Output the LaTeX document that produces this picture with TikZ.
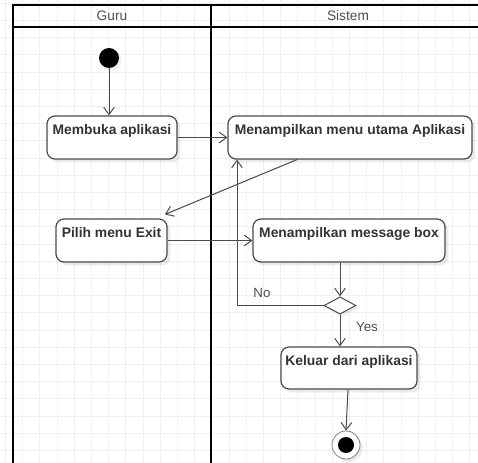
\documentclass[tikz,border=0pt]{standalone}
\usepackage{fontspec}
\setmainfont{Liberation Sans}
\usetikzlibrary{arrows.meta,shapes.geometric,shadows,fit}
\definecolor{gridline}{HTML}{F0F0F0}
\definecolor{edge}{HTML}{4A4A4A}
\definecolor{inktext}{HTML}{333333}
\definecolor{headtext}{HTML}{505050}
\tikzset{
  x=0.75pt, y=-0.75pt,
  actbox/.style={draw=edge, line width=0.9pt, rounded corners=6pt, fill=white, inner sep=0pt,
    drop shadow={shadow xshift=2.5pt, shadow yshift=-2.5pt, fill=black, opacity=0.08}},
  boxtext/.style={font=\bfseries\fontsize{10.4pt}{12pt}\selectfont, text=inktext, inner sep=0pt},
  flow/.style={draw=edge, line width=0.75pt, -{Straight Barb[length=5.5pt,width=8pt,line width=0.75pt]}},
  guard/.style={font=\fontsize{10pt}{12pt}\selectfont, text=headtext, inner sep=0pt},
  lanehead/.style={font=\fontsize{10.3pt}{12pt}\selectfont, text=headtext, inner sep=0pt},
}
\begin{document}
\begin{tikzpicture}
\useasboundingbox (0,0) rectangle (478,463);
\clip (0,0) rectangle (478,463);
\fill[white] (0,0) rectangle (478,463);
% background grid
\foreach \i in {0,...,28} \draw[gridline, line width=0.75pt] ({5.5+17.2*\i},0) -- ({5.5+17.2*\i},463);
\foreach \j in {0,...,27} \draw[gridline, line width=0.75pt] (0,{3.3+17.2*\j}) -- (478,{3.3+17.2*\j});

% swimlanes
\draw[black, line width=1.5pt] (13,470) -- (13,5) -- (485,5);
\draw[black, line width=1.5pt] (13,27) -- (485,27);
\draw[black, line width=1.5pt] (211,5) -- (211,470);
\node[lanehead] (hguru) at (112,16) {Guru};
\node[lanehead] (hsis) at (348,16) {Sistem};

% start
\node[circle, fill=black, minimum size=15pt, inner sep=0pt,
  drop shadow={shadow xshift=2pt, shadow yshift=-2pt, fill=black, opacity=0.06}] (start) at (109,58) {};

% activities
\node[actbox, fit={(47,116) (177,159)},
  label={[boxtext, anchor=base, yshift=-14.2pt]north:Membuka aplikasi}] (buka) {};
\node[actbox, fit={(228,116) (472,159)},
  label={[boxtext, anchor=base, yshift=-14.2pt]north:Menampilkan menu utama Aplikasi}] (menu) {};
\node[actbox, fit={(56,219) (167,262)},
  label={[boxtext, anchor=base, yshift=-14.2pt]north:Pilih menu Exit}] (exit) {};
\node[actbox, fit={(253,219) (445,262)},
  label={[boxtext, anchor=base, yshift=-14.2pt]north:Menampilkan message box}] (msg) {};
\node[actbox, fit={(281,347) (417,389)},
  label={[boxtext, anchor=base, yshift=-14.2pt]north:Keluar dari aplikasi}] (keluar) {};

% decision
\node[diamond, draw=edge, line width=0.75pt, fill=white, inner sep=0pt,
  minimum width=24pt, minimum height=13pt,
  drop shadow={shadow xshift=2pt, shadow yshift=-2pt, fill=black, opacity=0.08}] (dec) at (340,305.5) {};

% final
\node[circle, draw=edge!70, line width=0.6pt, fill=white, minimum size=21pt, inner sep=0pt,
  drop shadow={shadow xshift=2pt, shadow yshift=-2pt, fill=black, opacity=0.08}] (final) at (346,445) {};
\node[circle, fill=black, minimum size=12pt, inner sep=0pt] (finaldot) at (final.center) {};

% flows
\draw[flow] (start.south) -- (start.south |- buka.north);
\draw[flow] (buka.east) -- (menu.west);
\draw[flow] ([xshift=-39.75pt]menu.south) -- ([xshift=-2pt,yshift=3pt]exit.north east);
\draw[flow] (exit.east) -- (msg.west);
\draw[flow] (dec.north |- msg.south) -- (dec.north);
\coordinate (noturn) at (237,305.5);
\draw[flow] (dec.west) -- (noturn) -- (noturn |- menu.south);
\node[guard] (lno) at (262,293) {No};
\draw[flow] (dec.south) -- (dec.south |- keluar.north);
\node[guard] (lyes) at (367,327) {Yes};
\draw[flow] ([xshift=-0.75pt]keluar.south) -- (final.north);
\end{tikzpicture}
\end{document}
